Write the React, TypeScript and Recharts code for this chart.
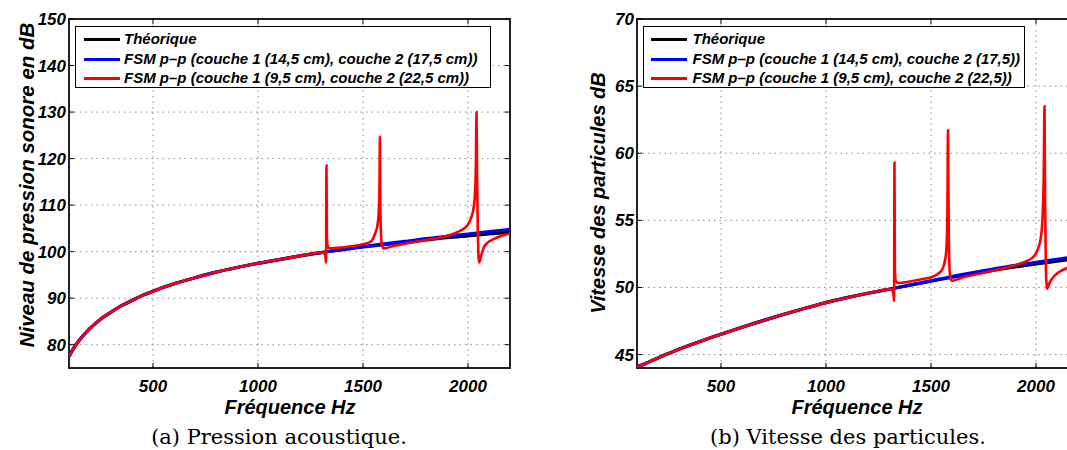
import React from 'react'
import { LineChart, Line, XAxis, YAxis, CartesianGrid, ReferenceArea } from 'recharts'

// frequency grid shared by the smooth curves (Hz)
const baseFreqs = [100, 120, 150, 200, 250, 300, 350, 400, 450, 500, 600, 700, 800, 900, 1000, 1100, 1200, 1300, 1400, 1500, 1600, 1700, 1800, 1900, 2000, 2100, 2200]

// (a) pression acoustique, dB
const pressureTheo = [77.5, 79.1, 81.0, 83.5, 85.5, 87.0, 88.4, 89.5, 90.6, 91.5, 93.1, 94.4, 95.6, 96.6, 97.5, 98.3, 99.1, 99.8, 100.4, 101.0, 101.5, 102.0, 102.5, 103.0, 103.4, 103.8, 104.2]
const pressureFsm1 = [77.5, 79.1, 81.0, 83.5, 85.5, 87.0, 88.4, 89.5, 90.6, 91.5, 93.1, 94.4, 95.6, 96.6, 97.5, 98.3, 99.1, 99.8, 100.5, 101.1, 101.7, 102.2, 102.8, 103.3, 103.8, 104.3, 104.8]
const pressureFsm2Freqs = [100, 120, 150, 200, 250, 300, 350, 400, 450, 500, 600, 700, 800, 900, 1000, 1100, 1200, 1300, 1310, 1318, 1322, 1324, 1326, 1328, 1331, 1340, 1400, 1450, 1500, 1535, 1558, 1570, 1576, 1579, 1580.5, 1582, 1585, 1590, 1598, 1650, 1700, 1750, 1800, 1850, 1900, 1935, 1964, 1990, 2003, 2015, 2027, 2034, 2038, 2040.5, 2043, 2047, 2051, 2054, 2058, 2065, 2075, 2090, 2122, 2160, 2200]
const pressureFsm2 = [77.5, 79.1, 81.0, 83.5, 85.5, 87.0, 88.4, 89.5, 90.6, 91.5, 93.1, 94.4, 95.6, 96.6, 97.5, 98.3, 99.1, 99.8, 99.8, 99.4, 98.6, 97.7, 118.5, 103.5, 101.4, 100.7, 100.9, 101.2, 101.6, 102.1, 103.9, 106.0, 109.5, 116, 124.7, 113, 104.5, 101.5, 100.7, 101.3, 101.7, 102.1, 102.5, 102.9, 103.4, 103.9, 104.5, 105.3, 106.0, 107.3, 109.5, 113, 120, 130, 117, 104, 98.5, 97.7, 98.3, 99.5, 100.9, 101.8, 102.7, 103.4, 103.9]

// (b) vitesse des particules, dB
const velocityTheo = [44.1, 44.2, 44.4, 44.75, 45.08, 45.4, 45.7, 45.98, 46.25, 46.52, 47.04, 47.53, 48.0, 48.45, 48.87, 49.24, 49.57, 49.87, 50.17, 50.47, 50.76, 51.03, 51.29, 51.53, 51.75, 51.95, 52.15]
const velocityFsm1 = [44.1, 44.2, 44.4, 44.75, 45.08, 45.4, 45.7, 45.98, 46.25, 46.52, 47.04, 47.53, 48.0, 48.45, 48.87, 49.24, 49.57, 49.87, 50.18, 50.5, 50.82, 51.1, 51.38, 51.64, 51.88, 52.1, 52.33]
const velocityFsm2Freqs = [100, 120, 150, 200, 250, 300, 350, 400, 450, 500, 600, 700, 800, 900, 1000, 1100, 1200, 1300, 1310, 1318, 1322, 1324, 1326, 1328, 1332, 1345, 1400, 1450, 1512, 1540, 1552, 1565, 1573, 1578, 1581, 1584, 1588, 1594, 1600, 1650, 1750, 1850, 1910, 1960, 1989, 2010, 2024, 2032, 2037, 2040.5, 2043, 2047, 2051, 2053, 2057, 2068, 2084, 2110, 2148, 2200]
const velocityFsm2 = [44.1, 44.2, 44.4, 44.75, 45.08, 45.4, 45.7, 45.98, 46.25, 46.52, 47.04, 47.53, 48.0, 48.45, 48.87, 49.24, 49.57, 49.87, 49.87, 49.7, 49.4, 49.0, 59.3, 51.5, 50.5, 50.33, 50.45, 50.6, 50.83, 51.1, 51.3, 51.9, 52.8, 55.5, 61.7, 55, 51.5, 50.6, 50.5, 50.75, 51.1, 51.45, 51.7, 52.0, 52.3, 52.9, 53.8, 55.5, 58.5, 63.5, 57, 51.5, 50.1, 49.9, 50.05, 50.45, 50.8, 51.15, 51.45, 51.75]

const xTicks = [500, 1000, 1500, 2000]
const pressureTicks = [80, 90, 100, 110, 120, 130, 140, 150]
const velocityTicks = [45, 50, 55, 60, 65, 70]

const legendA = ['Théorique', 'FSM p–p (couche 1 (14,5 cm), couche 2 (17,5 cm))', 'FSM p–p (couche 1 (9,5 cm), couche 2 (22,5 cm))']
const legendB = ['Théorique', 'FSM p–p (couche 1 (14,5 cm), couche 2 (17,5))', 'FSM p–p (couche 1 (9,5 cm), couche 2 (22,5))']
const COLORS = ['#000000', '#0000ff', '#ff0000']

const toPoints = (fs: number[], vs: number[]) => fs.map((f, i) => ({ f, v: vs[i] }))

const W = 540
const H = 450
const TOP = 19
const LEFT = 69
const RIGHT = 510
const BOTTOM = 368
const XAXIS_H = 30
const SANS = '"Liberation Sans", Arial, sans-serif'
const tickFont = { fontFamily: SANS, fontWeight: 700, fontStyle: 'italic', fontSize: 17 }

const XTick = ({ x, payload }: any) => (
  <g>
    <line x1={x} x2={x} y1={BOTTOM} y2={BOTTOM - 5} stroke="#000" />
    <line x1={x} x2={x} y1={TOP} y2={TOP + 5} stroke="#000" />
    <text x={x} y={BOTTOM + 24} textAnchor="middle" fill="#000" style={tickFont}>{payload.value}</text>
  </g>
)

const YTick = ({ y, payload }: any) => (
  <g>
    <line x1={LEFT} x2={LEFT + 5} y1={y} y2={y} stroke="#000" />
    <line x1={RIGHT} x2={RIGHT - 5} y1={y} y2={y} stroke="#000" />
    <text x={LEFT - 3} y={y + 6} textAnchor="end" fill="#000" style={tickFont}>{payload.value}</text>
  </g>
)

function Panel({ series, yDomain, yTicks }: { series: { f: number; v: number }[][]; yDomain: [number, number]; yTicks: number[] }) {
  return (
    <LineChart width={W} height={H} margin={{ top: TOP, right: W - RIGHT, bottom: H - BOTTOM - XAXIS_H, left: 0 }}>
      <CartesianGrid stroke="#8a8a8a" strokeDasharray="1.5 4" />
      <XAxis dataKey="f" type="number" domain={[100, 2200]} ticks={xTicks} height={XAXIS_H} allowDataOverflow axisLine={false} tickLine={false} tick={<XTick />} />
      <YAxis type="number" domain={yDomain} ticks={yTicks} allowDataOverflow width={LEFT} axisLine={false} tickLine={false} tick={<YTick />} />
      {series.map((d, i) => (
        <Line key={i} type="monotone" data={d} dataKey="v" stroke={COLORS[i]} strokeWidth={i === 2 ? 2.6 : 3.2} dot={false} isAnimationActive={false} />
      ))}
      <ReferenceArea x1={100} x2={2200} y1={yDomain[0]} y2={yDomain[1]} fill="none" stroke="#222" strokeWidth={2} />
    </LineChart>
  )
}

function LegendBox({ left, width, labels, lineLeft, textLeft }: { left: number; width: number; labels: string[]; lineLeft: number; textLeft: number }) {
  return (
    <div style={{ position: 'absolute', left, top: 26, width, height: 62, boxSizing: 'border-box', border: '1.5px solid #000', background: '#fff' }}>
      {labels.map((t, i) => (
        <div key={i} style={{ position: 'absolute', left: 0, top: 2 + i * 19.5, height: 19, width: '100%' }}>
          <span style={{ position: 'absolute', left: lineLeft, top: 9, width: 36, height: 3, background: COLORS[i] }} />
          <span style={{ position: 'absolute', left: textLeft, top: 0, lineHeight: '20px', whiteSpace: 'nowrap', fontFamily: SANS, fontWeight: 700, fontStyle: 'italic', fontSize: 15, color: '#000' }}>{t}</span>
        </div>
      ))}
    </div>
  )
}

const axisLabel: React.CSSProperties = { position: 'absolute', fontFamily: SANS, fontWeight: 700, fontStyle: 'italic', fontSize: 20, color: '#000', whiteSpace: 'nowrap' }
const caption: React.CSSProperties = { position: 'absolute', top: 437, fontFamily: '"DejaVu Serif", "Liberation Serif", serif', fontSize: 21, color: '#000', whiteSpace: 'nowrap', transform: 'translate(-50%, -50%)' }

export default function App() {
  const pressure = [toPoints(baseFreqs, pressureTheo), toPoints(baseFreqs, pressureFsm1), toPoints(pressureFsm2Freqs, pressureFsm2)]
  const velocity = [toPoints(baseFreqs, velocityTheo), toPoints(baseFreqs, velocityFsm1), toPoints(velocityFsm2Freqs, velocityFsm2)]
  return (
    <div style={{ position: 'absolute', left: 0, top: 0, width: 1067, height: 450, overflow: 'hidden', background: '#fff' }}>
      <div style={{ position: 'absolute', left: 0, top: 0 }}>
        <Panel series={pressure} yDomain={[75, 150]} yTicks={pressureTicks} />
      </div>
      <div style={{ position: 'absolute', left: 568, top: 0 }}>
        <Panel series={velocity} yDomain={[44, 70]} yTicks={velocityTicks} />
      </div>

      <LegendBox left={75} width={416} labels={legendA} lineLeft={7.5} textLeft={48} />
      <LegendBox left={643} width={382} labels={legendB} lineLeft={6.5} textLeft={48.5} />

      <div style={{ ...axisLabel, left: 27, top: 185, fontSize: 20.5, transform: 'translate(-50%, -50%) rotate(-90deg)' }}>Niveau de pression sonore en dB</div>
      <div style={{ ...axisLabel, left: 598, top: 193, transform: 'translate(-50%, -50%) rotate(-90deg)' }}>Vitesse des particules dB</div>
      <div style={{ ...axisLabel, left: 290, top: 407, transform: 'translate(-50%, -50%)' }}>Fréquence Hz</div>
      <div style={{ ...axisLabel, left: 857, top: 407, transform: 'translate(-50%, -50%)' }}>Fréquence Hz</div>

      <div style={{ ...caption, left: 279 }}>(a) Pression acoustique.</div>
      <div style={{ ...caption, left: 848 }}>(b) Vitesse des particules.</div>
    </div>
  )
}
